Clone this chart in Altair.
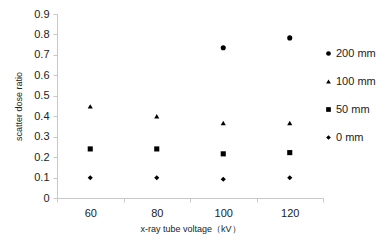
import altair as alt
import pandas as pd

voltages = ["60", "80", "100", "120"]
series = ["200 mm", "100 mm", "50 mm", "0 mm"]
v200 = [None, None, 0.735, 0.783]
v100 = [0.448, 0.400, 0.367, 0.367]
v50 = [0.240, 0.240, 0.216, 0.222]
v0 = [0.099, 0.099, 0.092, 0.099]
shapes = ["circle", "triangle-up", "square", "diamond"]
y_ticks = [0, 0.1, 0.2, 0.3, 0.4, 0.5, 0.6, 0.7, 0.8, 0.9]

rows = []
for name, vals in zip(series, [v200, v100, v50, v0]):
    for v, val in zip(voltages, vals):
        if val is not None:
            rows.append({"voltage": v, "series": name, "ratio": val})
df = pd.DataFrame(rows)

font = "Liberation Sans"

chart = alt.Chart(df).mark_point(filled=True, opacity=1, color="black", size=26).encode(
    x=alt.X("voltage:O", sort=voltages,
            scale=alt.Scale(paddingInner=0, paddingOuter=0),
            axis=alt.Axis(title="x-ray tube voltage（kV）", labelAngle=0, tickBand="extent",
                          domainColor="#c8c8c8", tickColor="#c8c8c8", tickSize=4,
                          labelFontSize=11, labelFont=font, labelColor="#222",
                          labelPadding=5, titleFont=font, titleFontSize=9,
                          titleFontWeight="normal", titleColor="#222", titlePadding=6)),
    y=alt.Y("ratio:Q", scale=alt.Scale(domain=[0, 0.9], nice=False),
            axis=alt.Axis(title="scatter dose ratio", values=y_ticks, format=".1~f",
                          grid=False, domainColor="#c8c8c8", tickColor="#c8c8c8",
                          tickSize=4, labelFontSize=11, labelFont=font, labelColor="#222",
                          labelPadding=4, titleFont=font, titleFontSize=9,
                          titleFontWeight="normal", titleColor="#222", titlePadding=10)),
    shape=alt.Shape("series:N", scale=alt.Scale(domain=series, range=shapes),
                    legend=alt.Legend(title=None, orient="none", legendX=266, legendY=34,
                                      labelFont=font, labelFontSize=11, labelColor="#222",
                                      symbolFillColor="black", symbolStrokeColor="black",
                                      symbolSize=22, rowPadding=16, padding=0,
                                      labelOffset=2, symbolOffset=0)),
).properties(
    width=266, height=184,
    autosize=alt.AutoSizeParams(type="none"),
    padding={"left": 49, "top": 6, "right": 54, "bottom": 36},
).configure_view(stroke=None)

chart.save("out.html", embed_options={"renderer": "svg", "actions": False})
